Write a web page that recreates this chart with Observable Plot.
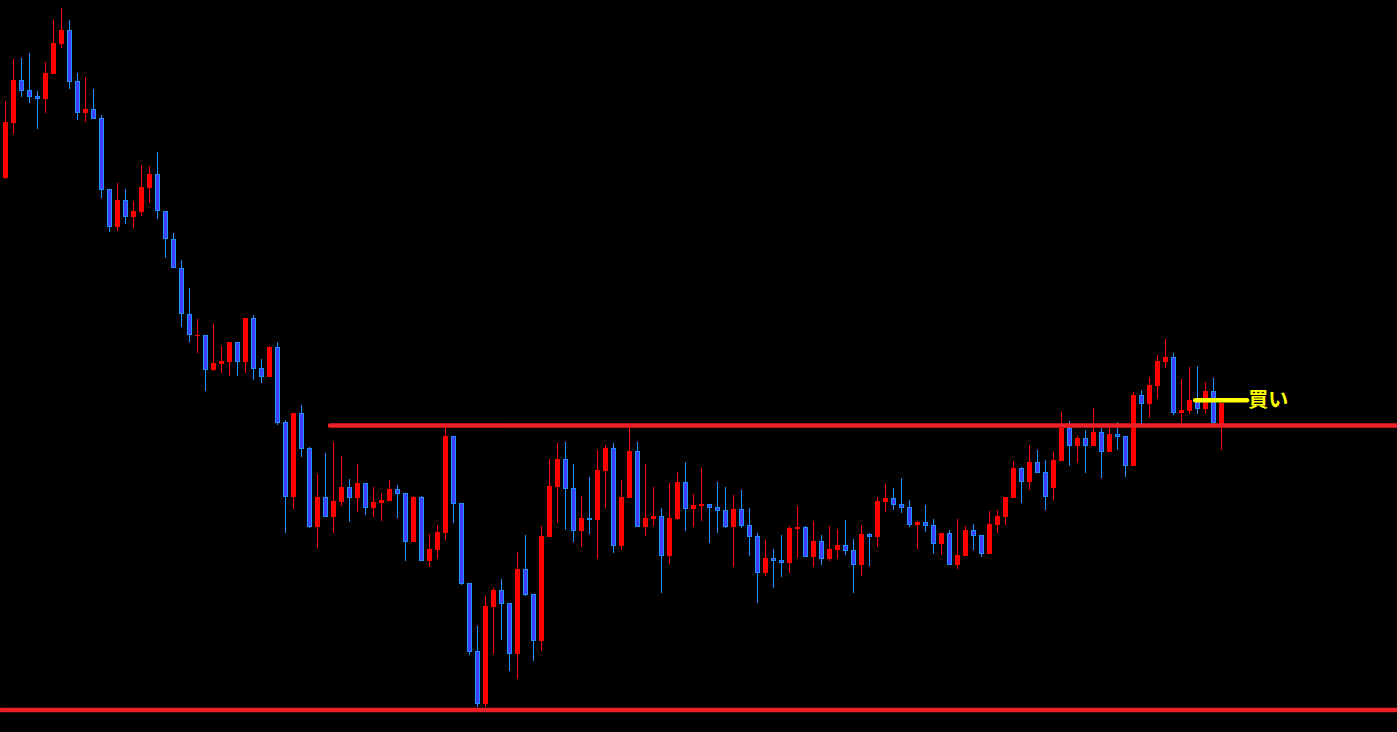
<!DOCTYPE html>
<html>
<head>
<meta charset="utf-8">
<script src="https://cdn.jsdelivr.net/npm/d3@7"></script>
<script src="https://cdn.jsdelivr.net/npm/@observablehq/plot@0.6"></script>
<style>
  html, body { margin: 0; padding: 0; background: #000; overflow: hidden; }
  #chart svg { display: block; }
</style>
</head>
<body>
<div id="chart"></div>
<script>
// Candle OHLC (price points), one entry per bar, oldest first
const opens  = [822,877,920,910,904,901,926,956,970,919,887,891,882,811,773,800,783,788,812,826,789,761,732,686,664,665,630,636,638,658,638,682,632,623,653,578,503,587,552,473,503,483,498,513,502,517,492,497,499,511,507,458,503,439,450,467,564,497,417,349,296,393,410,397,346,431,406,359,463,513,541,512,469,482,480,529,552,454,502,549,473,481,484,444,481,518,491,494,496,493,490,473,491,475,464,427,442,440,437,471,473,443,459,441,450,455,450,435,466,463,498,502,496,493,475,478,475,456,467,435,444,470,465,446,475,483,502,532,518,538,528,512,539,572,554,562,554,568,548,566,564,534,605,596,614,638,643,587,589,600,591,609,576];
const highs  = [899,941,942,947,909,938,980,992,980,927,923,911,885,811,817,811,799,835,834,848,789,767,740,712,681,665,676,654,658,658,682,685,641,654,658,580,587,595,553,526,547,558,544,521,536,517,513,507,520,515,507,504,504,466,475,574,564,497,417,374,404,412,421,397,448,465,406,474,541,557,558,536,504,523,550,555,557,520,574,558,536,513,492,517,528,538,506,532,496,518,513,505,510,492,467,460,451,465,474,494,474,479,465,474,471,480,461,475,467,503,516,512,522,500,479,495,481,467,470,481,474,476,465,489,490,503,539,533,555,550,540,548,588,579,564,570,592,572,572,578,564,608,610,623,645,661,647,621,633,634,618,622,597];
const lows   = [821,866,903,897,871,887,926,952,911,880,878,881,802,768,769,776,772,784,797,781,742,732,673,658,647,609,629,627,624,624,627,620,617,623,575,467,491,543,472,452,483,467,494,478,488,485,483,479,499,482,439,458,439,433,441,460,477,415,345,293,293,346,360,329,321,404,339,349,463,477,470,458,453,466,441,492,447,450,502,473,464,474,407,436,480,469,473,479,457,467,472,433,472,444,397,424,412,423,427,442,443,433,435,439,441,445,407,424,434,453,488,490,487,473,451,468,446,445,435,431,444,450,443,446,467,475,502,497,510,527,490,500,539,534,537,527,554,522,548,550,523,534,575,582,601,632,585,577,586,586,587,575,550];
const closes = [878,920,909,903,901,927,957,970,918,887,891,881,810,773,800,783,789,813,826,789,761,732,686,665,665,630,637,639,658,638,682,631,623,653,577,503,587,551,473,503,483,499,513,502,517,492,498,500,511,506,458,503,439,451,468,564,496,416,348,296,394,410,396,346,431,405,359,464,514,541,511,469,482,480,530,552,454,503,549,473,482,484,444,482,518,491,495,496,492,489,473,491,474,463,427,442,439,437,472,473,443,459,441,451,455,449,435,466,463,499,502,495,492,475,478,474,456,467,435,445,470,464,446,476,484,503,532,518,538,527,503,540,572,554,562,554,568,548,566,563,534,605,596,615,639,643,587,590,600,591,609,577,597];

// Horizontal levels (price points) and where they begin (bar index)
const resistanceLevel = 574.5;
const resistanceStartBar = 40.56;
const supportLevel = 290;
const supportStartBar = -0.56;
const buyLevel = 599.7;
const buyStartBar = 148.72;
const buyEndBar = 155.19;
const buyLabel = "買い";

const candles = opens.map((o, i) => ({
  i, open: o, high: highs[i], low: lows[i], close: closes[i],
  up: closes[i] >= opens[i]
}));
const upCandles = candles.filter(d => d.up);
const downCandles = candles.filter(d => !d.up);

const W = 1397, H = 732;
const xDomain = [-0.6875, 173.9375];

const RED = "#ff0000";
const BLUE_FILL = "#4040ff";
const BLUE_EDGE = "#1e90ff";
const LINE_RED = "#ee1f26";
const YELLOW = "#ffff00";

const chart = Plot.plot({
  width: W,
  height: H,
  margin: 0,
  marginTop: 0, marginRight: 0, marginBottom: 0, marginLeft: 0,
  style: { background: "#000", overflow: "visible" },
  x: { domain: xDomain, axis: null },
  y: { domain: [268, 1000], axis: null },
  marks: [
    // wicks
    Plot.ruleX(upCandles, { x: "i", y1: "low", y2: "high", stroke: RED, strokeWidth: 1 }),
    Plot.ruleX(downCandles, { x: "i", y1: "low", y2: "high", stroke: BLUE_EDGE, strokeWidth: 1 }),
    // bodies
    Plot.rect(upCandles, {
      x1: d => d.i - 0.3125, x2: d => d.i + 0.3125,
      y1: d => Math.min(d.open, d.close), y2: d => Math.max(d.open, d.close, Math.min(d.open, d.close) + 1),
      fill: RED
    }),
    Plot.rect(downCandles, {
      x1: d => d.i - 0.3125, x2: d => d.i + 0.3125,
      y1: "close", y2: "open",
      insetLeft: 0.5, insetRight: 0.5, insetTop: 0.5, insetBottom: 0.5,
      fill: BLUE_FILL, stroke: BLUE_EDGE, strokeWidth: 1
    }),
    // horizontal levels
    Plot.ruleY([resistanceLevel], { y: d => d, x1: resistanceStartBar, x2: xDomain[1] + 1, stroke: LINE_RED, strokeWidth: 4.5, strokeLinecap: "round" }),
    Plot.ruleY([supportLevel], { y: d => d, x1: supportStartBar, x2: xDomain[1] + 1, stroke: LINE_RED, strokeWidth: 4.5, strokeLinecap: "round" }),
    // buy marker
    Plot.ruleY([buyLevel], { y: d => d, x1: buyStartBar, x2: buyEndBar, stroke: YELLOW, strokeWidth: 4.5, strokeLinecap: "round" }),
    Plot.text([buyLabel], {
      x: buyEndBar + 0.15, y: buyLevel, text: d => d,
      fill: YELLOW, fontSize: 20, fontWeight: "bold",
      fontFamily: "'Noto Sans CJK JP', sans-serif",
      textAnchor: "start", lineAnchor: "middle"
    })
  ]
});

// Keep candle edges on whole pixels (drop the half-pixel shift on mark groups)
chart.querySelectorAll("g[transform]").forEach(g => g.removeAttribute("transform"));

document.getElementById("chart").appendChild(chart);
</script>
</body>
</html>
